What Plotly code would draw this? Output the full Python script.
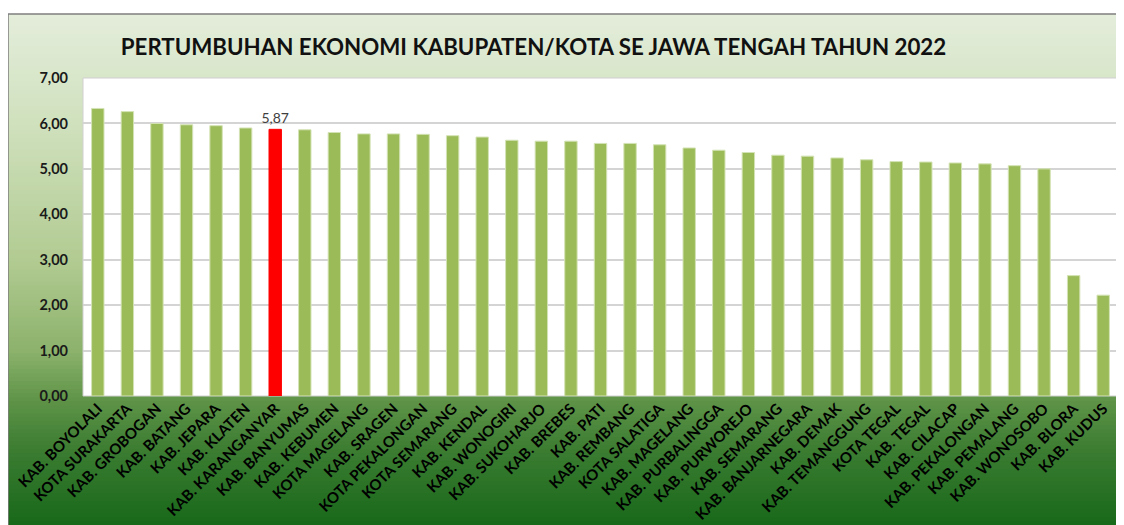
import plotly.graph_objects as go

categories = [
    "KAB. BOYOLALI", "KOTA SURAKARTA", "KAB. GROBOGAN", "KAB. BATANG", "KAB. JEPARA",
    "KAB. KLATEN", "KAB. KARANGANYAR", "KAB. BANYUMAS", "KAB. KEBUMEN", "KOTA MAGELANG",
    "KAB. SRAGEN", "KOTA PEKALONGAN", "KOTA SEMARANG", "KAB. KENDAL", "KAB. WONOGIRI",
    "KAB. SUKOHARJO", "KAB. BREBES", "KAB. PATI", "KAB. REMBANG", "KOTA SALATIGA",
    "KAB. MAGELANG", "KAB. PURBALINGGA", "KAB. PURWOREJO", "KAB. SEMARANG", "KAB. BANJARNEGARA",
    "KAB. DEMAK", "KAB. TEMANGGUNG", "KOTA TEGAL", "KAB. TEGAL", "KAB. CILACAP",
    "KAB. PEKALONGAN", "KAB. PEMALANG", "KAB. WONOSOBO", "KAB. BLORA", "KAB. KUDUS",
]
growth = [
    6.33, 6.26, 6.00, 5.97, 5.95,
    5.90, 5.87, 5.86, 5.80, 5.77,
    5.77, 5.76, 5.73, 5.70, 5.63,
    5.61, 5.61, 5.56, 5.56, 5.53,
    5.46, 5.41, 5.36, 5.30, 5.28,
    5.24, 5.20, 5.16, 5.15, 5.13,
    5.11, 5.07, 5.00, 2.65, 2.22,
]
highlight = "KAB. KARANGANYAR"
y_ticks = [0, 1, 2, 3, 4, 5, 6, 7]
title_text = "PERTUMBUHAN EKONOMI KABUPATEN/KOTA SE JAWA TENGAH TAHUN 2022"

# page body has an 8px margin, so the figure is offset by 8px
OFF = 8
W, H = 1124 - OFF, 525 - OFF
L, R, T, B = 83 - OFF, 6, 78 - OFF, 525 - 396
pw, ph = W - L - R, H - T - B

bar_colors = ["#ff0000" if c == highlight else "#9bbb59" for c in categories]
line_colors = ["#ff0000" if c == highlight else "#d4e3b5" for c in categories]
labels = [("%.2f" % v).replace(".", ",") if c == highlight else "" for c, v in zip(categories, growth)]

fig = go.Figure()
fig.add_trace(go.Bar(
    x=categories, y=growth,
    marker=dict(color=bar_colors, line=dict(color=line_colors, width=1)),
    text=labels, textposition="outside", cliponaxis=False, constraintext="none",
    textfont=dict(family="Lato", size=14, color="#404040"),
    hoverinfo="x+y",
))

def px_x(px):
    return (px - OFF - L) / pw

def px_y(py):
    return (H - B - (py - OFF)) / ph

stops = [(0.0, (228, 237, 219)), (0.21, (208, 225, 190)), (0.48, (178, 203, 146)),
         (0.66, (140, 178, 108)), (0.755, (95, 148, 72)), (0.85, (60, 125, 50)),
         (1.0, (24, 104, 26))]

def col_at(t):
    for i in range(len(stops) - 1):
        t0, c0 = stops[i]
        t1, c1 = stops[i + 1]
        if t <= t1:
            f = (t - t0) / (t1 - t0) if t1 > t0 else 0
            return "rgb(%d,%d,%d)" % tuple(round(a + (b - a) * f) for a, b in zip(c0, c1))
    return "rgb(%d,%d,%d)" % stops[-1][1]

shapes = []
top_px, bot_px, left_px, right_px = 14, 525, 8, 1124
N = 128
for i in range(N):
    y0 = top_px + (bot_px - top_px) * i / N
    y1 = top_px + (bot_px - top_px) * (i + 1) / N + 0.8
    shapes.append(dict(type="rect", xref="paper", yref="paper", layer="below",
                       x0=px_x(left_px), x1=px_x(right_px + 2), y0=px_y(y1), y1=px_y(y0),
                       line=dict(width=0), fillcolor=col_at((i + 0.5) / N)))
shapes.append(dict(type="rect", xref="paper", yref="paper", layer="below",
                   x0=px_x(left_px), x1=px_x(right_px + 4), y0=px_y(bot_px + 4), y1=px_y(top_px),
                   line=dict(width=1.5, color="#7f7f7f"), fillcolor="rgba(0,0,0,0)"))
shapes.append(dict(type="rect", xref="paper", yref="paper", layer="below",
                   x0=0, x1=1, y0=0, y1=1, line=dict(width=1, color="#d0d0d0"), fillcolor="white"))

fig.update_layout(
    width=W, height=H,
    margin=dict(l=L, r=R, t=T, b=B, pad=0),
    paper_bgcolor="white", plot_bgcolor="white",
    separators=",.",
    showlegend=False,
    bargap=0.58,
    shapes=shapes,
    title=dict(text=title_text, xref="container", yref="container",
               x=(533.5 - OFF) / W, y=1 - (47 - OFF) / H,
               xanchor="center", yanchor="middle",
               font=dict(family="Lato", size=22.3, color="#111111", weight=700)),
    xaxis=dict(tickangle=-45, tickfont=dict(family="Lato", size=15, color="#000000", weight=700),
               showgrid=False, ticks="", showline=False, automargin=False),
    yaxis=dict(range=[0, 7], tickvals=y_ticks, tickformat=".2f",
               tickfont=dict(family="Lato", size=14.5, color="#1a1a1a", weight=700),
               showgrid=True, gridcolor="#d4d4d4", gridwidth=1.5, zeroline=False,
               showline=False, ticks="", ticklabelstandoff=14, automargin=False),
)

fig.write_html("out.html")
